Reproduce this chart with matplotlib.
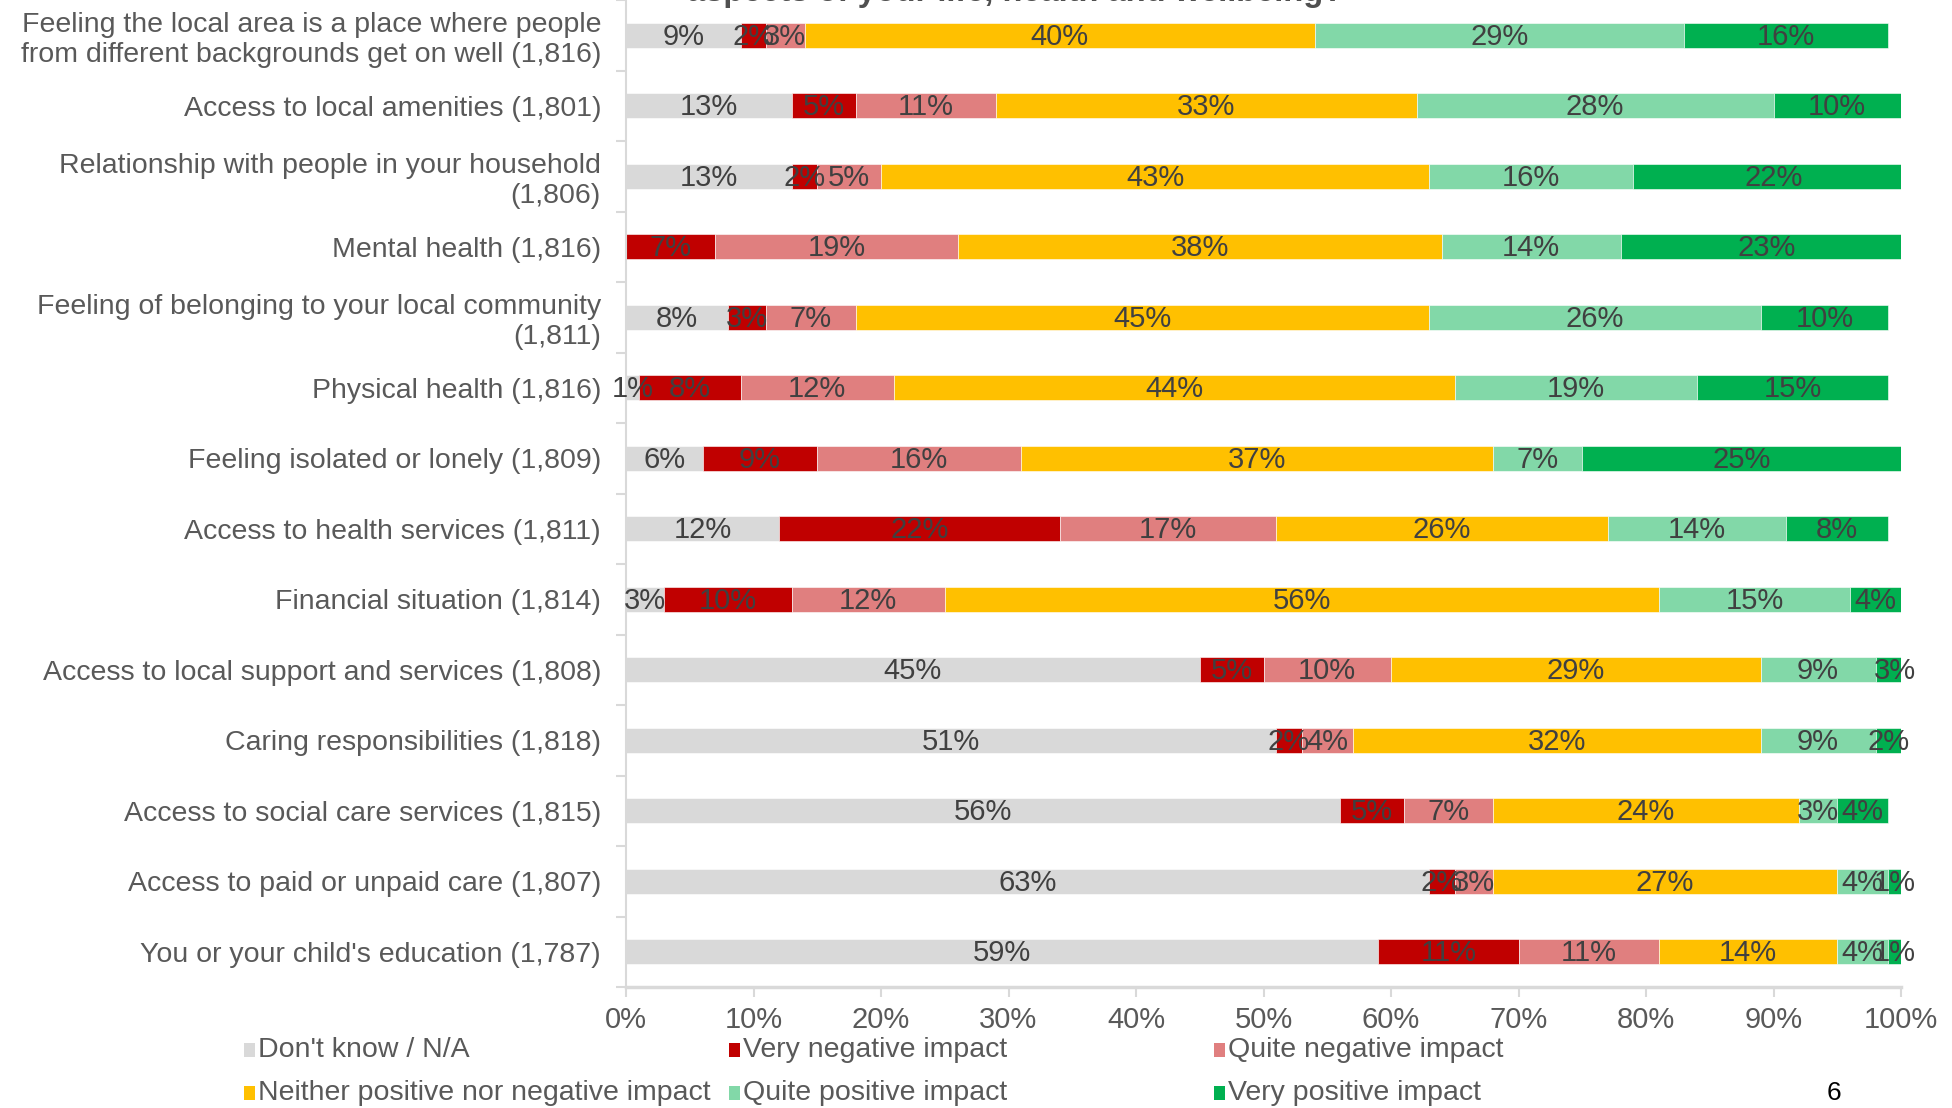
import matplotlib.pyplot as plt
from matplotlib.patches import Rectangle
import numpy as np

plt.rcParams['font.family'] = ['Liberation Sans', 'DejaVu Sans']

categories = [
    "Feeling the local area is a place where people\nfrom different backgrounds get on well (1,816)",
    "Access to local amenities (1,801)",
    "Relationship with people in your household\n(1,806)",
    "Mental health (1,816)",
    "Feeling of belonging to your local community\n(1,811)",
    "Physical health (1,816)",
    "Feeling isolated or lonely (1,809)",
    "Access to health services (1,811)",
    "Financial situation (1,814)",
    "Access to local support and services (1,808)",
    "Caring responsibilities (1,818)",
    "Access to social care services (1,815)",
    "Access to paid or unpaid care (1,807)",
    "You or your child's education (1,787)",
]

series = ["Don't know / N/A", "Very negative impact", "Quite negative impact",
          "Neither positive nor negative impact", "Quite positive impact",
          "Very positive impact"]

dont_know = [9, 13, 13, 0, 8, 1, 6, 12, 3, 45, 51, 56, 63, 59]
very_neg = [2, 5, 2, 7, 3, 8, 9, 22, 10, 5, 2, 5, 2, 11]
quite_neg = [3, 11, 5, 19, 7, 12, 16, 17, 12, 10, 4, 7, 3, 11]
neither = [40, 33, 43, 38, 45, 44, 37, 26, 56, 29, 32, 24, 27, 14]
quite_pos = [29, 28, 16, 14, 26, 19, 7, 14, 15, 9, 9, 3, 4, 4]
very_pos = [16, 10, 22, 23, 10, 15, 25, 8, 4, 3, 2, 4, 1, 1]

colors = ["#D9D9D9", "#C00000", "#E07F7F", "#FFC000", "#82D8A8", "#00B050"]

data = [dont_know, very_neg, quite_neg, neither, quite_pos, very_pos]

W, H = 1952, 1108
fig = plt.figure(figsize=(W / 100, H / 100), dpi=100)
ax = fig.add_axes([626 / W, 1 - 987 / H, (1901 - 626) / W, 987 / H])

y = np.arange(len(categories))
left = np.zeros(len(categories))
for vals, col in zip(data, colors):
    vals = np.array(vals, dtype=float)
    ax.barh(y, vals, left=left, height=0.355, color=col, edgecolor='white', linewidth=0.4)
    for yi, (l, v) in enumerate(zip(left, vals)):
        if v > 0:
            ax.text(l + v / 2, yi + 0.02, f"{int(v)}%", ha='center', va='center',
                    fontsize=21, color='#404040', clip_on=False)
    left += vals

ax.set_xlim(0, 100)
ax.set_ylim(len(categories) - 0.5, -0.5)

ax.set_xticks(np.arange(0, 101, 10))
ax.set_xticklabels([f"{t}%" for t in range(0, 101, 10)], fontsize=21, color='#595959')
ax.tick_params(axis='x', length=7, width=1.5, color='#D9D9D9', pad=7)

ax.set_yticks(y)
ax.set_yticklabels(categories, fontsize=20.5, color='#595959', ha='right',
                   multialignment='right', linespacing=1.2)
ax.tick_params(axis='y', length=0, pad=18)
ax.set_yticks(np.arange(-0.5, len(categories), 1), minor=True)
ax.tick_params(axis='y', which='minor', length=7, width=1.5, color='#D9D9D9')

for s in ['top', 'right']:
    ax.spines[s].set_visible(False)
ax.spines['left'].set_color('#D9D9D9')
ax.spines['left'].set_linewidth(1.5)
ax.spines['bottom'].set_color('#D9D9D9')
ax.spines['bottom'].set_linewidth(2.5)

# title line, cut off by the top edge like in the source slide
fig.text(687 / W, 1 - 1 / H, "aspects of your life, health and wellbeing?",
         fontsize=23.5, fontweight='bold', color='#505050', ha='left', va='baseline')

# legend, equal width columns
col_x = [244, 729, 1214]
row_y = [1050, 1093]
for i, (lab, col) in enumerate(zip(series, colors)):
    cx = col_x[i % 3]
    cy = row_y[i // 3]
    fig.patches.append(Rectangle((cx / W, 1 - (cy + 7) / H), 11 / W, 14 / H,
                                 transform=fig.transFigure, facecolor=col, edgecolor='none'))
    fig.text((cx + 14) / W, 1 - cy / H, lab, fontsize=20.5, color='#595959',
             ha='left', va='center')

fig.text(1834 / W, 1 - 1093 / H, "6", fontsize=19, color='black', ha='center', va='center')

fig.savefig("out.png", dpi=100)
